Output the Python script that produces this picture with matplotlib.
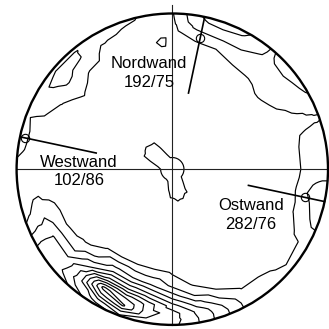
import numpy as np
import matplotlib
matplotlib.use("Agg")
import matplotlib.pyplot as plt
import matplotlib.tri as mtri
from matplotlib.patches import Circle

plt.rcParams['font.family'] = ['Liberation Sans', 'DejaVu Sans']

# wall orientations: dip direction / dip
walls = ["Nordwand", "Westwand", "Ostwand"]
dip_dirs = [192, 102, 282]
dips = [75, 86, 76]
label_x = [-0.150, -0.599, 0.505]
label_y = [0.618, -0.015, -0.294]

center_density = 1.5
angles = [0, 10, 20, 30, 40, 50, 60, 70, 80, 90, 95, 100, 110, 120, 130, 140, 150, 160, 170,
          180, 190, 200, 210, 220, 230, 240, 250, 260, 270, 280, 290, 300, 310, 320, 330, 340, 350]
radii = [0.15, 0.3, 0.5, 0.65, 0.75, 0.82, 0.88, 0.93, 0.97, 1.02]
density = [
    [0.5, 0.5, 0.5, 0.6, 0.8, 0.97, 1.3, 1.5, 1.6, 1.6],
    [0.5, 0.5, 0.5, 0.6, 0.8, 0.97, 1.3, 1.4, 1.4, 1.4],
    [0.5, 0.5, 0.5, 0.5, 0.6, 0.7, 0.8, 0.85, 0.9, 0.95],
    [0.5, 0.5, 0.5, 0.7, 0.95, 1.1, 1.3, 1.6, 1.9, 2.2],
    [0.5, 0.5, 0.5, 0.8, 1.1, 1.4, 1.7, 2.0, 2.3, 2.5],
    [0.5, 0.5, 0.5, 0.75, 0.95, 1.3, 1.6, 1.8, 1.9, 1.95],
    [0.5, 0.5, 0.5, 0.7, 0.9, 1.2, 1.95, 2.5, 2.9, 3.1],
    [0.5, 0.5, 0.5, 0.6, 0.8, 1.0, 1.9, 2.6, 3.3, 3.6],
    [0.5, 0.5, 0.5, 0.5, 0.6, 0.8, 1.6, 2.3, 2.8, 3.0],
    [0.5, 0.5, 0.5, 0.5, 0.55, 0.6, 0.6, 0.75, 0.85, 0.95],
    [0.5, 0.5, 0.5, 0.5, 0.6, 1.3, 0.6, 0.72, 0.8, 0.9],
    [0.5, 0.5, 0.5, 0.5, 0.5, 0.6, 0.6, 0.7, 0.8, 0.9],
    [0.75, 0.5, 0.5, 0.5, 0.5, 0.55, 0.8, 0.9, 1.05, 1.3],
    [1.05, 0.5, 0.5, 0.5, 0.5, 0.7, 0.85, 1.05, 1.3, 1.4],
    [1.3, 0.5, 0.5, 0.6, 0.7, 0.95, 1.5, 2.1, 2.1, 1.5],
    [1.35, 0.6, 0.5, 0.7, 1.05, 1.4, 2.2, 2.5, 2.1, 1.5],
    [1.25, 0.5, 0.5, 0.6, 0.75, 0.95, 1.3, 1.6, 1.7, 1.5],
    [1.0, 0.5, 0.5, 0.5, 0.6, 0.7, 0.8, 0.9, 1.0, 1.1],
    [0.7, 0.5, 0.5, 0.5, 0.5, 0.6, 0.75, 0.9, 1.1, 1.2],
    [0.5, 0.5, 0.5, 0.5, 0.5, 0.5, 0.6, 0.7, 0.8, 0.9],
    [0.5, 0.5, 0.5, 0.5, 0.6, 0.8, 0.85, 0.7, 0.6, 0.5],
    [0.5, 0.5, 0.5, 0.6, 0.9, 1.3, 1.9, 1.5, 1.1, 0.9],
    [0.5, 0.5, 0.5, 0.6, 0.9, 2.0, 3.1, 3.2, 3.2, 3.0],
    [0.5, 0.5, 0.5, 0.65, 1.1, 2.05, 3.1, 3.3, 3.5, 3.2],
    [0.5, 0.5, 0.5, 0.8, 2.2, 4.0, 5.5, 5.5, 5.0, 4.0],
    [0.5, 0.5, 0.5, 1.0, 3.6, 6.5, 10.4, 8.5, 6.5, 5.0],
    [0.6, 0.5, 0.5, 1.0, 3.2, 6.0, 9.0, 10.2, 8.0, 6.0],
    [0.95, 0.5, 0.5, 0.95, 2.8, 5.2, 7.5, 7.5, 7.0, 6.0],
    [1.15, 0.5, 0.5, 0.7, 1.8, 3.6, 5.5, 6.5, 6.5, 6.3],
    [1.25, 0.6, 0.5, 0.6, 0.9, 1.9, 3.6, 4.8, 5.0, 5.0],
    [1.25, 0.5, 0.5, 0.5, 0.7, 1.0, 2.0, 3.0, 3.3, 3.3],
    [1.1, 0.5, 0.5, 0.5, 0.6, 0.7, 0.95, 1.3, 1.5, 1.5],
    [0.8, 0.5, 0.5, 0.5, 0.6, 0.7, 0.95, 1.2, 1.3, 1.3],
    [0.5, 0.5, 0.5, 0.5, 0.6, 0.65, 0.7, 0.85, 1.1, 1.2],
    [0.5, 0.5, 0.5, 0.5, 0.6, 0.7, 0.8, 0.98, 1.2, 1.3],
    [0.5, 0.5, 0.5, 0.6, 0.8, 0.95, 1.4, 1.9, 2.3, 2.4],
    [0.5, 0.5, 0.5, 0.6, 0.85, 1.05, 2.0, 2.4, 2.5, 2.5],
]
levels = [1, 2, 3, 4, 5, 6, 7, 8, 9, 10]

T, R = np.meshgrid(np.radians(angles), radii, indexing='ij')
xs = np.concatenate([[0.0], (R * np.cos(T)).ravel()])
ys = np.concatenate([[0.0], (R * np.sin(T)).ravel()])
zs = np.concatenate([[center_density], np.array(density).ravel()])
tri = mtri.Triangulation(xs, ys)

fig = plt.figure(figsize=(3.29, 3.29), dpi=100)
ax = fig.add_axes([0, 0, 1, 1])
ax.set_xlim(-1.1066, 1.0064)
ax.set_ylim(-1.0263, 1.0867)
ax.set_aspect('equal')
ax.axis('off')

rim = Circle((0, 0), 1.0, transform=ax.transData, facecolor='none')
cs = ax.tricontour(tri, zs, levels=levels, colors='black', linewidths=0.85)
cs.set_clip_path(rim)

# net outline and cross
ax.add_patch(Circle((0, 0), 1.0, fill=False, lw=1.7, color='black', zorder=5))
ax.plot([0, 0], [-1.0, 1.055], color='#222222', lw=0.8, zorder=4)
ax.plot([-1.0, 1.0], [0, 0], color='#222222', lw=0.8, zorder=4)

# poles of the walls (equal-area, lower hemisphere) and dip lines
for name, dd, dip, lx, ly in zip(walls, dip_dirs, dips, label_x, label_y):
    trend = np.radians((dd + 180) % 360)
    r = np.sqrt(2) * np.sin(np.radians(dip) / 2)
    px, py = r * np.sin(trend), r * np.cos(trend)
    ax.plot([0.5 * np.sin(trend), np.sin(trend)], [0.5 * np.cos(trend), np.cos(trend)],
            color='black', lw=1.2, zorder=6)
    ax.plot(px, py, 'o', ms=6, mfc='none', mec='black', mew=0.8, zorder=7)
    ax.text(lx, ly, f"{name}\n{dd}/{dip}", ha='center', va='center', fontsize=12,
            linespacing=1.3, zorder=8)

fig.savefig("out.png", dpi=100)
